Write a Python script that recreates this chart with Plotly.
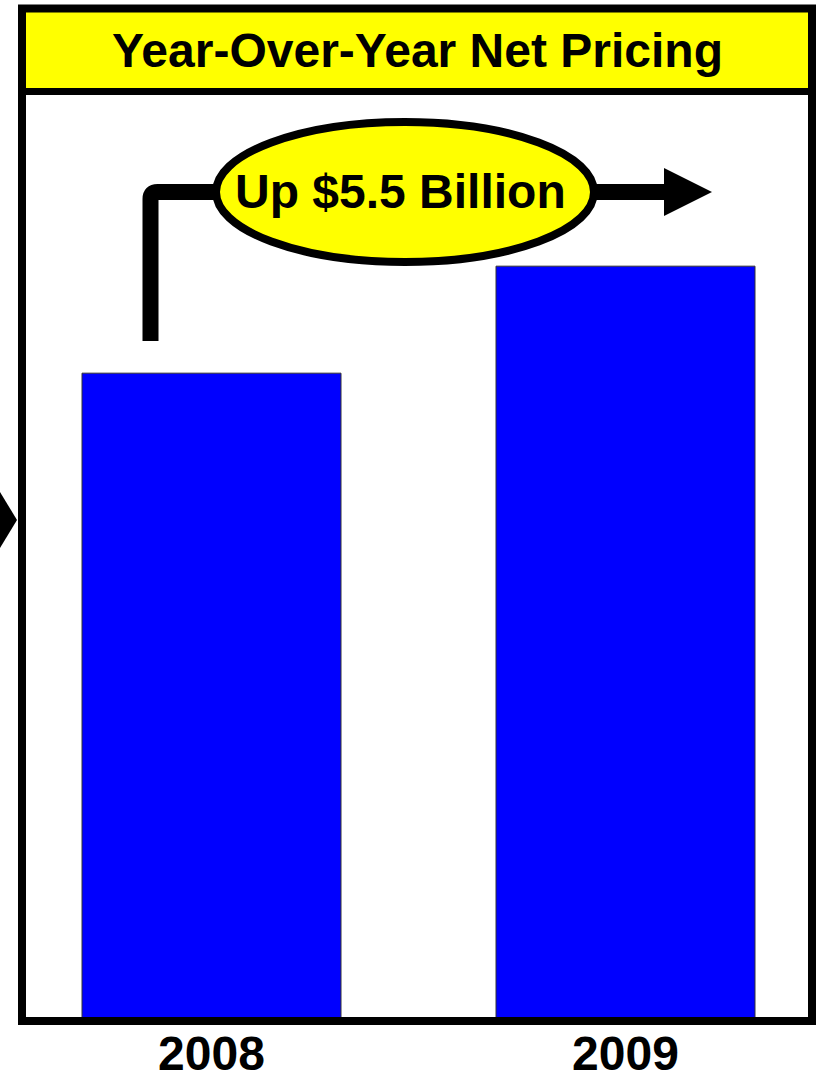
import plotly.graph_objects as go

# Data
years = ["2008", "2009"]
net_pricing = [33.3, 38.8]   # $ billions (estimated; difference = 5.5)
title_text = "Year-Over-Year Net Pricing"
callout_text = "Up $5.5 Billion"

W, H = 821, 1077
FONT = "Liberation Sans, Arial, Helvetica, sans-serif"


def px(x):
    return x / W


def py(y):
    return 1 - y / H


# plot area (pixels)
PL, PR, PT, PB = 22, 812, 9, 1021
bar_c0, bar_step, bar_w = 211.5, 414.0, 259.0
x_lo = (PL - bar_c0) / bar_step
x_hi = (PR - bar_c0) / bar_step
k = 5.5 / 107.0
y_hi = (PB - PT) * k

fig = go.Figure()
fig.add_trace(go.Bar(
    x=years, y=net_pricing,
    width=bar_w / bar_step,
    marker=dict(color="#0000FF", line=dict(color="#333333", width=1)),
    hoverinfo="skip",
))

shapes = []
# title band
shapes.append(dict(type="rect", xref="paper", yref="paper",
                   x0=px(26), x1=px(808), y0=py(12), y1=py(88),
                   fillcolor="#FFFF00", line=dict(width=0), layer="below"))
shapes.append(dict(type="line", xref="paper", yref="paper",
                   x0=px(22), x1=px(812), y0=py(91.5), y1=py(91.5),
                   line=dict(color="black", width=7)))
# frame
shapes.append(dict(type="rect", xref="paper", yref="paper",
                   x0=px(PL), x1=px(PR), y0=py(8.5), y1=py(PB),
                   line=dict(color="black", width=8), fillcolor="rgba(0,0,0,0)"))
# left partial arrowhead
shapes.append(dict(type="path", xref="paper", yref="paper",
                   path=f"M {px(-20)},{py(459)} L {px(17)},{py(520)} L {px(-20)},{py(581)} Z",
                   fillcolor="black", line=dict(width=0)))
# connector from 2008 bar to ellipse (rounded outer corner)
shapes.append(dict(type="path", xref="paper", yref="paper",
                   path=(f"M {px(150.5)},{py(341)} L {px(150.5)},{py(199)} "
                         f"Q {px(150.5)},{py(192)} {px(157.5)},{py(192)} "
                         f"L {px(230)},{py(192)}"),
                   line=dict(color="black", width=16)))
# right connector line
shapes.append(dict(type="line", xref="paper", yref="paper",
                   x0=px(580), x1=px(668), y0=py(192), y1=py(192),
                   line=dict(color="black", width=16)))
# arrowhead
shapes.append(dict(type="path", xref="paper", yref="paper",
                   path=f"M {px(664)},{py(168)} L {px(712)},{py(192)} L {px(664)},{py(216)} Z",
                   fillcolor="black", line=dict(width=0)))
# ellipse
shapes.append(dict(type="circle", xref="paper", yref="paper",
                   x0=px(216), x1=px(594), y0=py(122), y1=py(262),
                   fillcolor="#FFFF00", line=dict(color="black", width=8)))

annotations = [
    dict(text=f"<b>{title_text}</b>", xref="paper", yref="paper",
         x=px(417), y=py(50), xanchor="center", yanchor="middle",
         showarrow=False, font=dict(family=FONT, size=48, color="black")),
    dict(text=f"<b>{callout_text}</b>", xref="paper", yref="paper",
         x=px(400), y=py(191), xanchor="center", yanchor="middle",
         showarrow=False, font=dict(family=FONT, size=48, color="black")),
]

fig.update_layout(
    width=W, height=H,
    margin=dict(l=0, r=0, t=0, b=0),
    paper_bgcolor="white", plot_bgcolor="white",
    showlegend=False,
    shapes=shapes,
    annotations=annotations,
    xaxis=dict(domain=[px(PL), px(PR)], range=[x_lo, x_hi], type="category",
               showgrid=False, zeroline=False, showline=False, ticks="",
               tickfont=dict(family=FONT, size=48, color="black"),
               tickvals=years, ticktext=[f"<b>{y}</b>" for y in years],
               automargin=False),
    yaxis=dict(domain=[py(PB), py(PT)], range=[0, y_hi], visible=False,
               showgrid=False, zeroline=False, automargin=False),
)

fig.write_html("out.html")
